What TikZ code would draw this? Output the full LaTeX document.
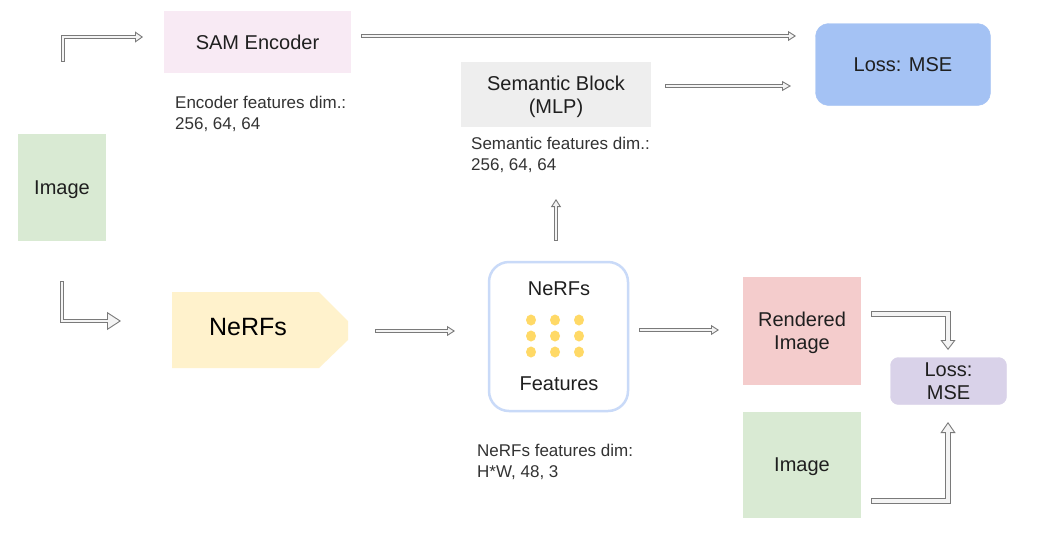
\documentclass[tikz,border=0pt]{standalone}
\usepackage{fontspec}
\setmainfont{Liberation Sans}
\usetikzlibrary{arrows.meta,calc}
\definecolor{samc}{HTML}{F8EAF4}
\definecolor{imgc}{HTML}{D9EAD3}
\definecolor{semc}{HTML}{EEEEEE}
\definecolor{lossb}{HTML}{A4C2F4}
\definecolor{lossp}{HTML}{D9D2E9}
\definecolor{rendc}{HTML}{F4CCCC}
\definecolor{nerfc}{HTML}{FFF2CC}
\definecolor{featb}{HTML}{C9DAF8}
\definecolor{dotc}{HTML}{FFD966}
\definecolor{txtc}{HTML}{1F1F1F}
\definecolor{dimc}{HTML}{333333}
\definecolor{arrd}{HTML}{7A7A7A}
\definecolor{arrf}{HTML}{F4F4F4}
\begin{document}
\begin{tikzpicture}[x=1pt,y=-1pt,
  box/.style={inner sep=0pt, align=center, text=txtc, text depth=0pt, font=\fontsize{20}{23}\selectfont},
  dimtxt/.style={inner sep=0pt, align=left, anchor=north west, text=dimc, font=\fontsize{17}{21}\selectfont},
  shaft/.style={draw=arrd, line width=0.9pt, double=arrf, double distance=2.8pt},
  wshaft/.style={draw=arrd, line width=0.9pt, double=arrf, double distance=4pt},
  fxtip/.style 2 args={draw=arrd, line width=0.9pt, -{Triangle[length=#1pt, width=#2pt, fill=arrf]}},
  tail/.style={draw=arrd, line width=0.9pt}
]
\useasboundingbox (0,0) rectangle (1051,542);
\fill[white] (0,0) rectangle (1051,542);

% ---- nodes ----
\node[box, fill=samc, minimum width=187pt, minimum height=62pt] (sam) at (257.5,42) {SAM Encoder};
\node[dimtxt] (encdim) at (175,96) {Encoder features dim.:\\256, 64, 64};
\node[box, fill=imgc, minimum width=88pt, minimum height=107pt] (img1) at (62,187.5) {Image};
\node[box, fill=semc, minimum width=190pt, minimum height=65pt] (sem) at (556,94.5) {Semantic Block\\(MLP)};
\node[dimtxt] (semdim) at (471,137) {Semantic features dim.:\\256, 64, 64};
\node[box, fill=lossb, draw=lossb, rounded corners=13pt, minimum width=175pt, minimum height=82pt] (loss1) at (903,64.5) {Loss: MSE};

\fill[nerfc] (172,292) -- (319,292) -- (348,321) -- (348,340) -- (319,368) -- (172,368) -- cycle;
\node[box, font=\fontsize{25}{28}\selectfont, text=black] (nerf) at (248,327) {NeRFs};

\node[draw=featb, line width=2.5pt, rounded corners=20pt, minimum width=139pt, minimum height=149pt, inner sep=0pt] (feat) at (558.5,336.5) {};
\node[box] (feattop) at (559,289) {NeRFs};
\node[box] (featbot) at (559,384) {Features};
\foreach \xx in {531,555,579}
  \foreach \yy in {320,336,352}
    \fill[dotc] (\xx,\yy) ellipse [x radius=5pt, y radius=5.5pt];
\node[dimtxt] (nerfdim) at (477,444) {NeRFs features dim:\\H*W, 48, 3};

\node[box, fill=rendc, minimum width=118pt, minimum height=108pt] (rend) at (802,331) {Rendered\\Image};
\node[box, fill=imgc, minimum width=118pt, minimum height=106pt] (img2) at (802,465) {Image};
\node[box, fill=lossp, draw=lossp, rounded corners=8pt, minimum width=116pt, minimum height=47pt] (loss2) at (948.5,381) {Loss:\\MSE};

% ---- connectors ----
% image -> SAM encoder
\coordinate (a1s) at (63,61); \coordinate (a1c) at (63,37);
\coordinate (a1b) at (135,37); \coordinate (a1t) at (143,37);
\draw[fxtip={8}{11}] (a1b) -- (a1t);
\draw[shaft] (a1s) -- (a1c) -- ($(a1b)+(0.6,0)$);
\draw[tail] ($(a1s)+(-1.85,0)$) -- ($(a1s)+(1.85,0)$);

% image -> NeRFs
\coordinate (a2s) at (62,281); \coordinate (a2c) at (62,321);
\coordinate (a2b) at (107,321); \coordinate (a2t) at (121,321);
\draw[fxtip={14}{18}] (a2b) -- (a2t);
\draw[shaft] (a2s) -- (a2c) -- ($(a2b)+(0.6,0)$);
\draw[tail] ($(a2s)+(-1.85,0)$) -- ($(a2s)+(1.85,0)$);

% SAM -> Loss
\coordinate (a3s) at (361,36); \coordinate (a3b) at (788,36); \coordinate (a3t) at (796,36);
\draw[fxtip={8}{10}] (a3b) -- (a3t);
\draw[shaft] (a3s) -- ($(a3b)+(0.6,0)$);
\draw[tail] ($(a3s)+(0,-1.85)$) -- ($(a3s)+(0,1.85)$);

% Semantic -> Loss
\coordinate (a4s) at (665,86); \coordinate (a4b) at (782,86); \coordinate (a4t) at (791,86);
\draw[fxtip={9}{10}] (a4b) -- (a4t);
\draw[shaft] (a4s) -- ($(a4b)+(0.6,0)$);
\draw[tail] ($(a4s)+(0,-1.85)$) -- ($(a4s)+(0,1.85)$);

% Features -> Semantic
\coordinate (a5s) at (556,240); \coordinate (a5b) at (556,207); \coordinate (a5t) at (556,199);
\draw[fxtip={8}{10}] (a5b) -- (a5t);
\draw[shaft] (a5s) -- ($(a5b)+(0,-0.6)$);
\draw[tail] ($(a5s)+(-1.85,0)$) -- ($(a5s)+(1.85,0)$);

% NeRFs -> Features
\coordinate (a6s) at (375,331); \coordinate (a6b) at (447,331); \coordinate (a6t) at (455,331);
\draw[fxtip={8}{10}] (a6b) -- (a6t);
\draw[shaft] (a6s) -- ($(a6b)+(0.6,0)$);
\draw[tail] ($(a6s)+(0,-1.85)$) -- ($(a6s)+(0,1.85)$);

% Features -> Rendered
\coordinate (a7s) at (639,330); \coordinate (a7b) at (711,330); \coordinate (a7t) at (719,330);
\draw[fxtip={8}{10}] (a7b) -- (a7t);
\draw[shaft] (a7s) -- ($(a7b)+(0.6,0)$);
\draw[tail] ($(a7s)+(0,-1.85)$) -- ($(a7s)+(0,1.85)$);

% Rendered -> Loss
\coordinate (a8s) at (871,314); \coordinate (a8c) at (948,314);
\coordinate (a8b) at (948,340); \coordinate (a8t) at (948,350);
\draw[fxtip={10}{15}] (a8b) -- (a8t);
\draw[wshaft] (a8s) -- (a8c) -- ($(a8b)+(0,0.6)$);
\draw[tail] ($(a8s)+(0,-2.45)$) -- ($(a8s)+(0,2.45)$);

% Image -> Loss
\coordinate (a9s) at (871,501); \coordinate (a9c) at (948,501);
\coordinate (a9b) at (948,433); \coordinate (a9t) at (948,422);
\draw[fxtip={11}{15}] (a9b) -- (a9t);
\draw[wshaft] (a9s) -- (a9c) -- ($(a9b)+(0,-0.6)$);
\draw[tail] ($(a9s)+(0,-2.45)$) -- ($(a9s)+(0,2.45)$);
\end{tikzpicture}
\end{document}
